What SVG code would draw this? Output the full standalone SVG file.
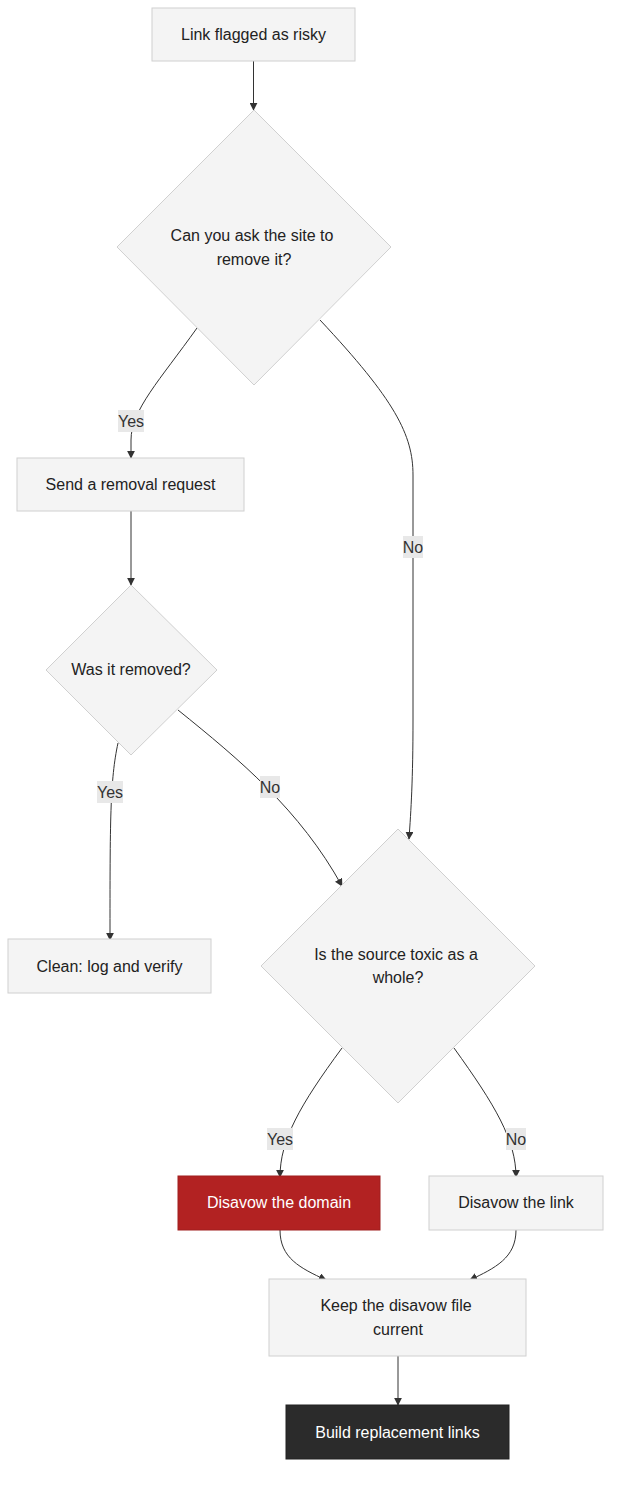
<svg xmlns="http://www.w3.org/2000/svg" width="619" height="1486" viewBox="0 0 619 1486">
<style>
.n{fill:#f4f4f4;stroke:#d0d0d0;stroke-width:1}
.t{font-family:"Liberation Sans",Arial,sans-serif;font-size:16px;fill:#222;text-anchor:middle;dominant-baseline:central}
.w{fill:#fff}
.e{fill:none;stroke:#333;stroke-width:1}
.lb{fill:#e8e8e8}
.lt{font-family:"Liberation Sans",Arial,sans-serif;font-size:16px;fill:#333;text-anchor:middle;dominant-baseline:central}
</style>
<defs><marker id="a" viewBox="0 0 10 10" refX="9" refY="5" markerWidth="8" markerHeight="8" orient="auto"><path d="M0,0L10,5L0,10z" fill="#333"/></marker></defs>
<rect width="619" height="1486" fill="#fff"/>
<g id="edges">
<path class="e" marker-end="url(#a)" d="M253.5,61 L253.5,110"/>
<path class="e" marker-end="url(#a)" d="M197,328 C160,380 131,410 131,440 L131,458"/>
<path class="e" marker-end="url(#a)" d="M320,320 C395,400 413,435 413,475 L413,720 C413,780 411,810 409,839"/>
<path class="e" marker-end="url(#a)" d="M131,511 L131,585"/>
<path class="e" marker-end="url(#a)" d="M118,743 C110,780 110,820 110,940"/>
<path class="e" marker-end="url(#a)" d="M178,710 C240,760 300,810 342,886"/>
<path class="e" marker-end="url(#a)" d="M342,1048 C300,1105 280,1140 280,1177"/>
<path class="e" marker-end="url(#a)" d="M454,1048 C495,1105 516,1140 516,1177"/>
<path class="e" marker-end="url(#a)" d="M280,1230 C280,1258 300,1268 326,1280"/>
<path class="e" marker-end="url(#a)" d="M516,1230 C516,1258 495,1268 470,1280"/>
<path class="e" marker-end="url(#a)" d="M398,1356 L398,1405"/>
<rect class="lb" x="118" y="410" width="26" height="22"/><text class="lt" x="131" y="421">Yes</text>
<rect class="lb" x="403" y="536" width="20" height="22"/><text class="lt" x="413" y="547">No</text>
<rect class="lb" x="97" y="781" width="26" height="22"/><text class="lt" x="110" y="792">Yes</text>
<rect class="lb" x="260" y="776" width="20" height="22"/><text class="lt" x="270" y="787">No</text>
<rect class="lb" x="267" y="1128" width="26" height="22"/><text class="lt" x="280" y="1139">Yes</text>
<rect class="lb" x="506" y="1128" width="20" height="22"/><text class="lt" x="516" y="1139">No</text>
</g>
<g id="A"><rect class="n" x="152" y="8" width="203" height="53"/><text class="t" x="253.5" y="34.5">Link flagged as risky</text></g>
<g id="B"><polygon class="n" points="254,110 391,247 254,385 117,247"/><text class="t" x="252" y="235">Can you ask the site to</text><text class="t" x="254" y="259">remove it?</text></g>
<g id="C"><rect class="n" x="17" y="458" width="227" height="53"/><text class="t" x="130.5" y="484.5">Send a removal request</text></g>
<g id="D"><polygon class="n" points="131,585 217,670 131,755 46,670"/><text class="t" x="131" y="669">Was it removed?</text></g>
<g id="E"><rect class="n" x="8" y="939" width="203" height="54"/><text class="t" x="109.5" y="966">Clean: log and verify</text></g>
<g id="F"><polygon class="n" points="398,829 535,966 398,1103 261,966"/><text class="t" x="396" y="954">Is the source toxic as a</text><text class="t" x="398" y="977">whole?</text></g>
<g id="G"><rect x="178" y="1176" width="202" height="54" fill="#b22222" stroke="#a01e1e"/><text class="t w" x="279" y="1202">Disavow the domain</text></g>
<g id="H"><rect class="n" x="429" y="1176" width="174" height="54"/><text class="t" x="516" y="1202">Disavow the link</text></g>
<g id="I"><rect class="n" x="269" y="1279" width="257" height="77"/><text class="t" x="396" y="1305">Keep the disavow file</text><text class="t" x="398" y="1329">current</text></g>
<g id="J"><rect x="286" y="1405" width="223" height="54" fill="#2b2b2b" stroke="#222"/><text class="t w" x="397.5" y="1432">Build replacement links</text></g>
</svg>
